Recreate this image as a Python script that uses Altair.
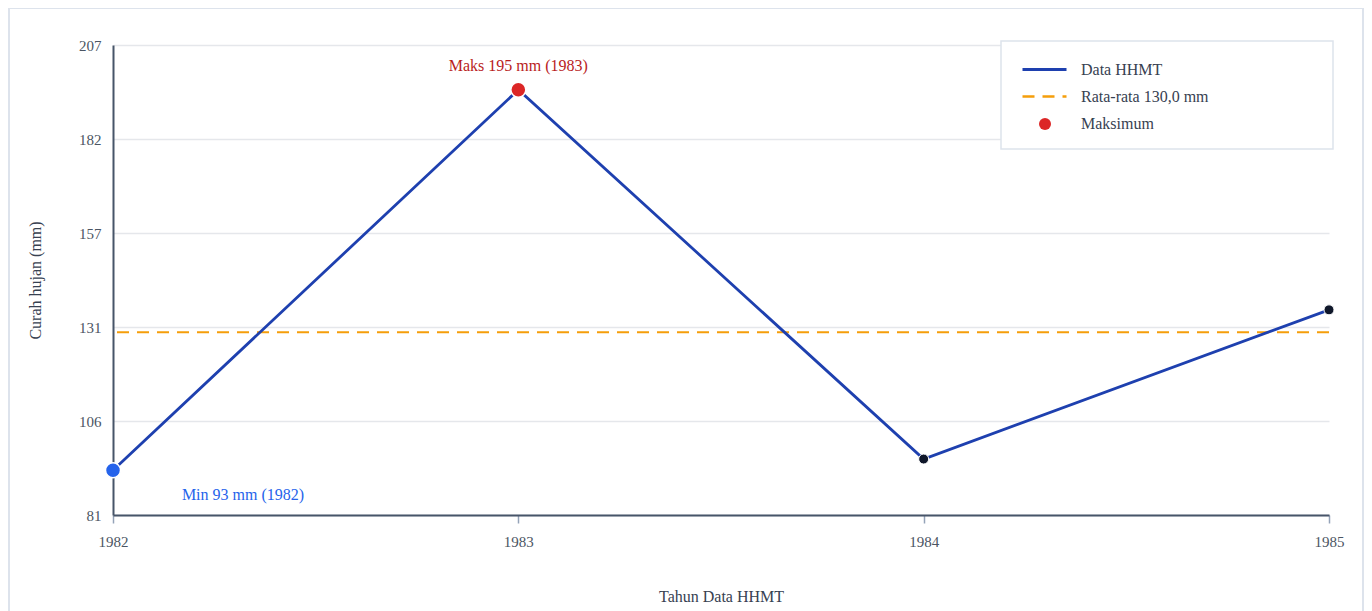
import altair as alt
import pandas as pd

years = [1982, 1983, 1984, 1985]
rain = [93, 195, 96, 136]
y_ticks = [81, 106.2, 131.4, 156.6, 181.8, 207]
y_domain = [81, 207]

mean_val = sum(rain) / len(rain)
mean_label = "Rata-rata " + f"{mean_val:.1f}".replace(".", ",") + " mm"
SERIES = ["Data HHMT", mean_label, "Maksimum"]

BLUE_LINE = "#1e40af"
ORANGE = "#f59e0b"
RED = "#dc2626"
RED_TXT = "#b91c1c"
BLUE_MIN = "#2563eb"
FONT = "Liberation Serif"
TXT = "#4b5563"
LEG_TXT = "#374151"

df = pd.DataFrame({"year": years, "rain": rain, "series": SERIES[0]})
imax = rain.index(max(rain))
imin = rain.index(min(rain))
df_max = pd.DataFrame({"year": [years[imax]], "rain": [rain[imax]], "series": [SERIES[2]],
                       "label": [f"Maks {rain[imax]} mm ({years[imax]})"]})
df_min = pd.DataFrame({"year": [years[imin]], "rain": [rain[imin]],
                       "label": [f"Min {rain[imin]} mm ({years[imin]})"]})
df_mean = pd.DataFrame({"mean": [mean_val], "series": [SERIES[1]]})

x_scale = alt.Scale(domain=[years[0], years[-1]], nice=False, zero=False)
y_scale = alt.Scale(domain=y_domain, nice=False, zero=False)

x_axis = alt.Axis(values=years, format="d", grid=False, title="Tahun Data HHMT",
                  tickColor="#94a3b8", tickSize=8, tickWidth=1.5, labelPadding=11,
                  labelFlush=False, domainColor="#475569", domainWidth=2, titlePadding=39)
y_axis = alt.Axis(values=y_ticks, format=".0f", title="Curah hujan (mm)", ticks=False,
                  labelPadding=12, domainColor="#475569", domainWidth=2,
                  gridColor="#e5e7eb", gridWidth=1.5, titlePadding=35)

LINE_SYM = "M-2,0H2"
leg_common = dict(title=None, orient="none", padding=0, labelFontSize=16,
                  labelColor=LEG_TXT, labelFont=FONT, symbolOpacity=1)

leg_line = alt.Legend(legendX=919, legendY=12, labelOffset=24, symbolType=LINE_SYM,
                      symbolSize=484, symbolStrokeColor=BLUE_LINE, symbolStrokeWidth=3,
                      **leg_common)
leg_mean = alt.Legend(legendX=919, legendY=39, labelOffset=24, symbolType=LINE_SYM,
                      symbolSize=484, symbolStrokeColor=ORANGE, symbolStrokeWidth=2.5,
                      symbolDash=[9, 11], **leg_common)
leg_max = alt.Legend(legendX=924, legendY=71, labelOffset=28, symbolType="circle",
                     symbolSize=144, symbolFillColor=RED, symbolStrokeWidth=0,
                     **leg_common)

one = alt.Data(values=[{"k": 1}])

frame = alt.Chart(one).mark_rect(fill="transparent", stroke="#dde3ec", strokeWidth=2).encode(
    x=alt.value(-104), x2=alt.value(1250), y=alt.value(-37), y2=alt.value(620))

legend_box = alt.Chart(one).mark_rect(fill="white", stroke="#dde3ec", strokeWidth=1.5).encode(
    x=alt.value(888), x2=alt.value(1220), y=alt.value(-4), y2=alt.value(104))

base = alt.Chart(df)

line = base.mark_line(strokeWidth=2.8).encode(
    x=alt.X("year:Q", scale=x_scale, axis=x_axis),
    y=alt.Y("rain:Q", scale=y_scale, axis=y_axis),
    color=alt.Color("series:N", scale=alt.Scale(domain=[SERIES[0]], range=[BLUE_LINE]),
                    legend=leg_line),
)

mean_rule = alt.Chart(df_mean).mark_rule(strokeWidth=2, color=ORANGE).encode(
    y=alt.Y("mean:Q", scale=y_scale),
    strokeDash=alt.StrokeDash("series:N", scale=alt.Scale(domain=[SERIES[1]], range=[[12, 8]]),
                              legend=leg_mean),
)

pts = base.mark_point(filled=True, size=100, color="#0f172a", stroke="white",
                      strokeWidth=1, opacity=1).encode(
    x=alt.X("year:Q", scale=x_scale), y=alt.Y("rain:Q", scale=y_scale))

max_pt = alt.Chart(df_max).mark_point(filled=True, size=225, color=RED, stroke="white",
                                      strokeWidth=1.5, opacity=1).encode(
    x=alt.X("year:Q", scale=x_scale), y=alt.Y("rain:Q", scale=y_scale),
    shape=alt.Shape("series:N", scale=alt.Scale(domain=[SERIES[2]], range=["circle"]),
                    legend=leg_max),
)
min_pt = alt.Chart(df_min).mark_point(filled=True, size=225, color=BLUE_MIN, stroke="white",
                                      strokeWidth=1.5, opacity=1).encode(
    x=alt.X("year:Q", scale=x_scale), y=alt.Y("rain:Q", scale=y_scale))

max_txt = alt.Chart(df_max).mark_text(dy=-24, fontSize=16, font=FONT, color=RED_TXT).encode(
    x=alt.X("year:Q", scale=x_scale), y=alt.Y("rain:Q", scale=y_scale), text="label:N")
min_txt = alt.Chart(df_min).mark_text(dx=130, dy=25, fontSize=16, font=FONT, color=BLUE_MIN).encode(
    x=alt.X("year:Q", scale=x_scale), y=alt.Y("rain:Q", scale=y_scale), text="label:N")

chart = alt.layer(frame, legend_box, mean_rule, line, pts, max_pt, min_pt, max_txt, min_txt).properties(
    width=1216, height=470,
    autosize=alt.AutoSizeParams(type="none"),
    padding={"left": 105, "top": 37, "right": 35, "bottom": 100},
    background="white",
).resolve_legend(color="independent", strokeDash="independent", shape="independent"
).configure_view(stroke=None).configure_axis(
    labelFont=FONT, titleFont=FONT, labelFontSize=15, titleFontSize=16,
    labelColor=TXT, titleColor=LEG_TXT, titleFontWeight="normal",
)

chart.save("out.html", embed_options={"renderer": "svg", "actions": False})
